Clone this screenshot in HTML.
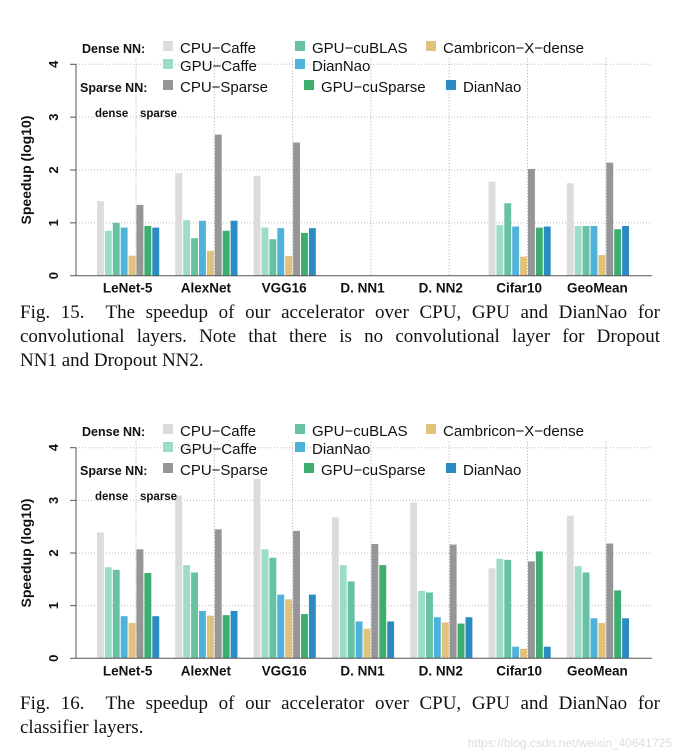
<!DOCTYPE html>
<html><head><meta charset="utf-8"><style>
body{margin:0;width:680px;height:754px;background:#fff;overflow:hidden;position:relative}
svg{position:absolute;left:0;top:0}
.cap{position:absolute;left:20px;width:640px;font-family:"Liberation Serif",serif;font-size:19px;line-height:24px;color:#111}
.cap div{text-align:justify;text-align-last:justify;white-space:nowrap}
.cap div.last{text-align-last:left}
.wm{position:absolute;right:8px;top:736px;font-family:"Liberation Sans",sans-serif;font-size:12px;color:#ddd}
</style></head><body>
<svg id="chart" width="680" height="754" xmlns="http://www.w3.org/2000/svg"></svg>
<div class="cap" style="top:301px">
<div>Fig. 15.&nbsp; The speedup of our accelerator over CPU, GPU and DianNao for</div>
<div>convolutional layers. Note that there is no convolutional layer for Dropout</div>
<div class="last">NN1 and Dropout NN2.</div>
</div>
<div class="cap" style="top:692px">
<div>Fig. 16.&nbsp; The speedup of our accelerator over CPU, GPU and DianNao for</div>
<div class="last">classifier layers.</div>
</div>
<div class="wm">https://blog.csdn.net/weixin_40641725</div>
<script>
const categories=["LeNet-5","AlexNet","VGG16","D. NN1","D. NN2","Cifar10","GeoMean"];
const seriesNames=["CPU-Caffe","GPU-Caffe","GPU-cuBLAS","DianNao","Cambricon-X-dense","CPU-Sparse","GPU-cuSparse","DianNao-sparse"];
const conv_cpuCaffe=[1.41,1.94,1.89,0,0,1.78,1.75];
const conv_gpuCaffe=[0.85,1.05,0.91,0,0,0.96,0.94];
const conv_gpuCublas=[1.0,0.71,0.69,0,0,1.37,0.94];
const conv_dianNao=[0.91,1.04,0.9,0,0,0.93,0.94];
const conv_cambricon=[0.38,0.47,0.37,0,0,0.36,0.39];
const conv_cpuSparse=[1.34,2.67,2.52,0,0,2.02,2.14];
const conv_gpuCusparse=[0.94,0.85,0.81,0,0,0.91,0.88];
const conv_dianNaoSparse=[0.91,1.04,0.9,0,0,0.93,0.94];
const fc_cpuCaffe=[2.39,3.09,3.41,2.68,2.96,1.71,2.71];
const fc_gpuCaffe=[1.73,1.77,2.07,1.77,1.28,1.89,1.75];
const fc_gpuCublas=[1.68,1.63,1.91,1.46,1.25,1.87,1.63];
const fc_dianNao=[0.8,0.9,1.21,0.7,0.78,0.22,0.76];
const fc_cambricon=[0.67,0.81,1.12,0.56,0.68,0.18,0.67];
const fc_cpuSparse=[2.07,2.45,2.42,2.17,2.16,1.84,2.18];
const fc_gpuCusparse=[1.62,0.82,0.84,1.77,0.66,2.03,1.29];
const fc_dianNaoSparse=[0.8,0.9,1.21,0.7,0.78,0.22,0.76];
const yTicks=[0,1,2,3,4];
const colors=["#dcdcdc","#9ddcc8","#66c2a0","#4fb3d9","#e0c27a","#969696","#3cae6e","#2b8cc4"];
const NS="http://www.w3.org/2000/svg";
const svg=document.getElementById('chart');
function mk(tag,attrs,parent){const e=document.createElementNS(NS,tag);for(const k in attrs)e.setAttribute(k,attrs[k]);(parent||svg).appendChild(e);return e;}
function draw(oy,y0,y4,data,id){
  const g=mk('g',{});
  
  
  const ys=v=>y0-(y0-y4)*v/4;
  const xL=76,xR=652,gw=78.3,g0=97,slot=7.9;
  const xg=i=>g0+i*gw;
  yTicks.forEach(t=>{
    if(t>0){const l=mk('line',{x1:xL,x2:xR,y1:ys(t),y2:ys(t),stroke:'#bbb','stroke-dasharray':'1,2','stroke-width':1},g);
    }
    const tk=mk('line',{x1:70,x2:xL,y1:ys(t),y2:ys(t),stroke:'#555'},g);
    
    const tx=mk('text',{x:0,y:0,transform:`translate(58,${ys(t)}) rotate(-90)`,'text-anchor':'middle','font-family':'Liberation Sans,sans-serif','font-weight':'bold','font-size':13,fill:'#111'},g);
    tx.textContent=t;
  });
  categories.forEach((c,i)=>{
    const sx=xg(i)+5*slot-0.5;
    const sl=mk('line',{x1:sx,x2:sx,y1:y4-6,y2:y0,stroke:'#aaa','stroke-dasharray':'1,2'},g);
    
    data.forEach((s,k)=>{
      const v=s[i];if(v<=0)return;
      const r=mk('rect',{x:xg(i)+k*slot,y:ys(v),width:slot-1,height:y0-ys(v),fill:colors[k]},g);
      
      
    });
    const lb=mk('text',{x:xg(i)+4*slot-1,y:y0+17,'text-anchor':'middle','font-family':'Liberation Sans,sans-serif','font-weight':'bold','font-size':13.5,fill:'#111'},g);
    lb.textContent=c;
  });
  const ax=mk('line',{x1:xL,x2:xL,y1:y4,y2:y0,stroke:'#555'},g);
  
  const bx=mk('line',{x1:xL,x2:xR,y1:y0,y2:y0,stroke:'#555'},g);
  
  const yt=mk('text',{x:0,y:0,transform:`translate(31,${(y0+y4)/2}) rotate(-90)`,'text-anchor':'middle','font-family':'Liberation Sans,sans-serif','font-weight':'bold','font-size':14,fill:'#111'},g);
  yt.textContent='Speedup (log10)';
  const txt=(s,x,y,bold,size,name)=>{const t=mk('text',{x:x,y:y,'font-family':'Liberation Sans,sans-serif','font-size':size,'font-weight':bold?'bold':'normal',fill:'#111'},g);t.textContent=s;return t;};
  const r1=oy,r2=oy+18,r3=oy+39;
  txt('Dense NN:',82,r1+6,true,12.5,'legend-dense-title');
  txt('Sparse NN:',80,r3+6,true,12.5,'legend-sparse-title');
  const ents=[[0,163,r1,'CPU\u2212Caffe'],[2,295,r1,'GPU\u2212cuBLAS'],[4,426,r1,'Cambricon\u2212X\u2212dense'],[1,163,r2,'GPU\u2212Caffe'],[3,295,r2,'DianNao'],[5,163,r3,'CPU\u2212Sparse'],[6,304,r3,'GPU\u2212cuSparse'],[7,446,r3,'DianNao']];
  ents.forEach(e=>{
    const sq=mk('rect',{x:e[1],y:e[2]-6,width:10,height:10,fill:colors[e[0]]},g);
    
    txt(e[3],e[1]+17,e[2]+6,false,15,'legend-entry');
  });
  txt('dense',95,oy+70,true,11.5,'dense-label');
  txt('sparse',140,oy+70,true,11.5,'sparse-label');
}
draw(47,275.7,64.3,[conv_cpuCaffe,conv_gpuCaffe,conv_gpuCublas,conv_dianNao,conv_cambricon,conv_cpuSparse,conv_gpuCusparse,conv_dianNaoSparse],'fig15-chart');
draw(430,658.3,447.7,[fc_cpuCaffe,fc_gpuCaffe,fc_gpuCublas,fc_dianNao,fc_cambricon,fc_cpuSparse,fc_gpuCusparse,fc_dianNaoSparse],'fig16-chart');
</script>
</body></html>
